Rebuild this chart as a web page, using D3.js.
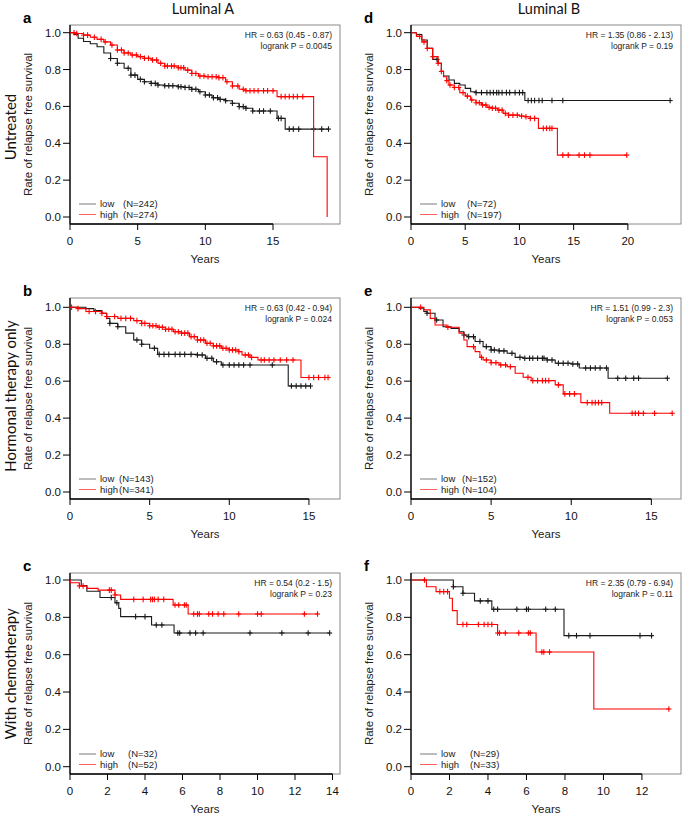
<!DOCTYPE html>
<html><head><meta charset="utf-8">
<script src="https://cdn.jsdelivr.net/npm/d3@7"></script>
<style>body{margin:0;background:#fff}svg{display:block}</style>
</head><body>
<svg id="chart" width="684" height="816"></svg>
<script>
// ---------- DATA ----------
const columnTitles = ["Luminal A", "Luminal B"];
const rowTitles = ["Untreated", "Hormonal therapy only", "With chemotherapy"];
const yTicks = [0, 0.2, 0.4, 0.6, 0.8, 1.0];

// panel a : Luminal A, untreated
const aTicks = [0, 5, 10, 15];
const aLow = [[0,1],[0.3,0.99],[0.6,0.97],[1.0,0.952],[1.5,0.94],[2.0,0.924],[2.5,0.89],[3.0,0.86],[3.5,0.834],[4.0,0.807],[4.5,0.77],[5.0,0.747],[5.5,0.734],[6.0,0.725],[6.5,0.716],[7.0,0.712],[8.0,0.707],[8.5,0.703],[9.0,0.693],[9.5,0.68],[10.0,0.662],[10.5,0.647],[11.0,0.638],[11.5,0.631],[12.0,0.617],[12.5,0.599],[13.0,0.59],[13.5,0.575],[15.3,0.535],[15.9,0.477],[19.1,0.477]];
const aHigh = [[0,1],[0.5,0.996],[1.0,0.987],[1.5,0.975],[2.0,0.964],[2.5,0.95],[3.0,0.933],[3.5,0.906],[4.0,0.89],[4.5,0.879],[5.0,0.87],[5.5,0.861],[6.0,0.852],[6.5,0.834],[7.0,0.819],[8.0,0.81],[8.5,0.797],[9.0,0.779],[9.5,0.765],[10.0,0.761],[11.0,0.756],[11.5,0.734],[12.0,0.711],[12.5,0.693],[13.0,0.685],[15.3,0.653],[18.0,0.327],[19.0,0]];
const aLowCens = [3.0,3.5,4.3,4.5,4.8,5.2,5.5,6.0,6.3,6.5,7.0,7.3,7.6,8.0,8.2,8.5,8.8,9.0,9.3,9.6,10.0,10.3,10.6,10.9,11.1,11.5,12.0,12.5,12.8,13.0,13.5,14.0,14.3,14.8,15.4,15.6,16.2,16.5,16.9,18.0,18.6,19.1];
const aHighCens = [0.3,0.5,1.0,1.3,1.8,2.3,2.6,3.1,3.5,3.8,4.0,4.3,4.6,4.9,5.2,5.5,5.8,6.1,6.4,6.7,7.0,7.2,7.5,7.7,8.0,8.2,8.4,8.7,9.0,9.3,9.6,9.9,10.2,10.5,10.8,11.0,11.3,11.6,12.0,12.4,12.8,13.0,13.3,13.6,13.9,14.3,14.6,15.0,15.6,15.9,16.2,16.5,16.8,17.2];
const aStats = ["HR = 0.63 (0.45 - 0.87)", "logrank P = 0.0045"];
const aN = ["(N=242)", "(N=274)"];

// panel d : Luminal B, untreated
const dTicks = [0, 5, 10, 15, 20];
const dLow = [[0,1],[0.5,0.99],[1.0,0.96],[1.5,0.915],[2.0,0.855],[2.5,0.834],[2.8,0.79],[3.0,0.765],[3.5,0.743],[4.0,0.725],[4.5,0.716],[5.0,0.698],[5.5,0.68],[6.0,0.675],[10.5,0.632],[23.9,0.632]];
const dHigh = [[0,1],[0.5,0.98],[1.0,0.95],[1.5,0.915],[2.0,0.87],[2.5,0.834],[2.8,0.79],[3.0,0.761],[3.3,0.74],[3.5,0.716],[4.0,0.703],[4.5,0.675],[5.0,0.656],[5.5,0.635],[6.0,0.62],[6.5,0.608],[7.0,0.595],[7.5,0.59],[8.0,0.58],[8.5,0.562],[9.0,0.553],[10.0,0.548],[10.5,0.544],[11.0,0.535],[11.75,0.481],[13.5,0.336],[19.9,0.336]];
const dLowCens = [2.4,6.0,6.5,7.0,7.3,7.6,7.9,8.1,8.4,8.8,9.1,9.6,10.0,10.3,10.8,11.1,11.4,11.8,12.1,13.0,14.0,23.9];
const dHighCens = [0.8,1.2,1.5,2.0,2.5,2.8,3.3,3.6,4.0,4.4,4.8,5.2,5.6,6.0,6.3,6.6,6.9,7.2,7.5,7.8,8.1,8.4,8.7,9.0,9.4,9.8,10.2,10.6,11.0,11.4,12.2,12.5,12.8,13.0,14.0,14.5,15.5,16.0,16.5,19.9];
const dStats = ["HR = 1.35 (0.86 - 2.13)", "logrank P = 0.19"];
const dN = ["(N=72)", "(N=197)"];

// panel b : Luminal A, hormonal therapy only
const bTicks = [0, 5, 10, 15];
const bLow = [[0,1],[1.0,0.993],[1.5,0.982],[2.0,0.968],[2.3,0.94],[2.5,0.913],[3.0,0.895],[3.5,0.86],[4.0,0.823],[4.5,0.8],[5.0,0.778],[5.5,0.745],[8.0,0.742],[8.5,0.724],[9.0,0.705],[9.5,0.688],[13.7,0.574],[15.1,0.574]];
const bHigh = [[0,1],[0.5,0.993],[1.0,0.977],[2.0,0.968],[2.3,0.95],[3.0,0.94],[4.0,0.928],[4.5,0.913],[5.0,0.9],[5.5,0.892],[6.0,0.881],[6.5,0.868],[7.0,0.86],[7.5,0.841],[8.0,0.823],[8.5,0.805],[9.0,0.791],[9.5,0.778],[10.0,0.769],[10.6,0.76],[10.8,0.742],[11.3,0.729],[11.8,0.715],[14.5,0.62],[16.2,0.62]];
const bLowCens = [2.5,3.0,4.2,4.5,5.3,5.6,5.9,6.2,6.6,6.9,7.2,7.6,8.0,8.3,8.6,8.9,9.2,9.6,10.0,10.3,10.6,10.9,11.3,12.7,13.9,14.2,14.5,14.8,15.1];
const bHighCens = [0.1,0.5,1.2,1.6,2.0,2.3,2.8,3.2,3.5,3.8,4.2,4.5,4.7,5.0,5.2,5.4,5.6,5.8,6.0,6.2,6.4,6.6,6.8,7.0,7.2,7.4,7.6,7.8,8.0,8.2,8.4,8.6,8.8,9.0,9.2,9.4,9.6,9.8,10.0,10.2,10.4,10.6,11.0,11.2,11.4,12.0,12.2,12.5,12.8,13.2,13.6,14.0,15.0,15.3,15.6,16.0,16.2];
const bStats = ["HR = 0.63 (0.42 - 0.94)", "logrank P = 0.024"];
const bN = ["(N=143)", "(N=341)"];

// panel e : Luminal B, hormonal therapy only
const eTicks = [0, 5, 10, 15];
const eLow = [[0,1],[0.5,0.995],[0.8,0.977],[1.0,0.968],[1.5,0.931],[2.0,0.895],[2.5,0.886],[3.0,0.868],[3.3,0.85],[3.5,0.841],[4.0,0.815],[4.5,0.787],[5.0,0.769],[5.5,0.764],[6.0,0.751],[6.5,0.729],[7.0,0.724],[8.5,0.715],[9.0,0.697],[10.0,0.693],[10.5,0.671],[12.3,0.616],[16.0,0.616]];
const eHigh = [[0,1],[0.8,0.986],[1.2,0.94],[1.5,0.904],[2.2,0.892],[3.0,0.86],[3.3,0.823],[3.5,0.787],[4.0,0.76],[4.3,0.729],[4.5,0.715],[5.0,0.7],[5.5,0.688],[6.0,0.679],[6.5,0.643],[7.0,0.621],[7.5,0.603],[9.0,0.58],[9.5,0.531],[10.6,0.484],[12.4,0.426],[16.3,0.426]];
const eLowCens = [1.0,1.6,3.3,3.6,3.9,4.3,4.7,5.0,5.2,5.5,5.8,6.3,6.8,7.1,7.4,7.6,7.9,8.2,8.3,8.5,8.8,9.2,9.5,9.8,10.1,10.4,10.9,11.2,11.5,11.8,12.2,12.9,13.4,13.9,14.2,16.0];
const eHighCens = [0.6,2.3,3.9,4.4,4.7,5.0,5.3,5.6,5.9,6.2,7.3,7.6,7.9,8.2,8.4,8.6,9.2,9.6,9.9,10.2,11.0,11.3,11.5,11.7,11.9,13.8,14.0,14.2,14.5,15.2,16.3];
const eStats = ["HR = 1.51 (0.99 - 2.3)", "logrank P = 0.053"];
const eN = ["(N=152)", "(N=104)"];

// panel c : Luminal A, with chemotherapy
const cTicks = [0, 2, 4, 6, 8, 10, 12, 14];
const cLow = [[0,1],[0.6,0.97],[0.9,0.94],[1.6,0.906],[2.4,0.878],[2.6,0.848],[2.7,0.804],[4.35,0.759],[5.55,0.716],[13.85,0.716]];
const cHigh = [[0,1],[0.02,0.985],[0.5,0.968],[0.9,0.955],[1.5,0.946],[2.4,0.92],[2.7,0.896],[5.5,0.866],[6.3,0.818],[13.2,0.818]];
const cLowCens = [2.2,2.5,3.5,4.0,4.6,4.9,5.75,5.85,6.4,6.7,7.1,9.6,11.3,12.7,13.85];
const cHighCens = [0.5,0.7,2.1,2.2,2.4,3.4,3.9,4.3,4.4,4.5,4.7,5.0,5.6,5.8,6.1,6.2,6.6,6.8,6.9,7.4,7.6,7.9,8.2,9.0,10.0,10.2,12.5,13.2];
const cStats = ["HR = 0.54 (0.2 - 1.5)", "logrank P = 0.23"];
const cN = ["(N=32)", "(N=52)"];

// panel f : Luminal B, with chemotherapy
const fTicks = [0, 2, 4, 6, 8, 10, 12];
const fLow = [[0,1],[2.2,0.964],[2.7,0.929],[3.3,0.888],[4.2,0.843],[7.95,0.702],[12.55,0.702]];
const fHigh = [[0,1],[0.8,0.964],[1.3,0.938],[2.0,0.902],[2.15,0.836],[2.4,0.762],[4.5,0.716],[6.5,0.614],[9.5,0.309],[13.4,0.309]];
const fLowCens = [2.2,2.7,3.6,4.0,4.3,4.5,5.5,6.0,6.1,7.0,7.5,8.2,8.6,9.3,11.9,12.5];
const fHighCens = [0.7,1.5,1.7,1.9,2.7,2.9,3.5,3.8,4.0,4.2,4.5,4.6,4.9,5.6,6.1,6.2,6.8,6.9,7.2,13.4];
const fStats = ["HR = 2.35 (0.79 - 6.94)", "logrank P = 0.11"];
const fN = ["(N=29)", "(N=33)"];

// ---------- LAYOUT ----------
const svg = d3.select("#chart");
const AX = "'Liberation Sans', Arial, Helvetica, sans-serif";
const LB = "Lato, 'Open Sans', sans-serif";
const LOWC = "#1a1a1a", HIGHC = "#ff0000";

const panels = [
  {key:"a", x0:70,  x1:340, top:25,  bottom:224, yOne:32.7,  yZero:217,   xmax:19.95, ticks:aTicks, low:aLow, high:aHigh, lowC:aLowCens, highC:aHighCens, stats:aStats, n:aN, nx:123},
  {key:"d", x0:411, x1:681, top:25,  bottom:224, yOne:32.7,  yZero:217,   xmax:24.9,  ticks:dTicks, low:dLow, high:dHigh, lowC:dLowCens, highC:dHighCens, stats:dStats, n:dN, nx:467},
  {key:"b", x0:70,  x1:340, top:298, bottom:499, yOne:307.3, yZero:492,   xmax:16.95, ticks:bTicks, low:bLow, high:bHigh, lowC:bLowCens, highC:bHighCens, stats:bStats, n:bN, nx:119},
  {key:"e", x0:411, x1:681, top:298, bottom:499, yOne:307.3, yZero:492,   xmax:16.85, ticks:eTicks, low:eLow, high:eHigh, lowC:eLowCens, highC:eHighCens, stats:eStats, n:eN, nx:462},
  {key:"c", x0:70,  x1:340, top:573, bottom:774, yOne:580,   yZero:766.7, xmax:14.4,  ticks:cTicks, low:cLow, high:cHigh, lowC:cLowCens, highC:cHighCens, stats:cStats, n:cN, nx:128},
  {key:"f", x0:411, x1:681, top:573, bottom:774, yOne:580,   yZero:766.7, xmax:14.03, ticks:fTicks, low:fLow, high:fHigh, lowC:fLowCens, highC:fHighCens, stats:fStats, n:fN, nx:470}
];

// column titles
[203, 549].forEach((cx, i) => {
  svg.append("text").attr("x", cx).attr("y", 14).attr("text-anchor", "middle")
    .attr("font-family", LB).attr("font-size", 14.5).attr("fill", "#111").text(columnTitles[i]);
});
// row titles
[127, 396, 674].forEach((cy, i) => {
  svg.append("text").attr("transform", `translate(10,${cy}) rotate(-90)`)
    .attr("text-anchor", "middle").attr("dominant-baseline", "central")
    .attr("font-family", LB).attr("font-size", 15).attr("fill", "#111").text(rowTitles[i]);
});

const bis = d3.bisector(d => d[0]).right;
function valueAt(steps, t) {
  const i = bis(steps, t) - 1;
  return steps[Math.max(0, i)][1];
}

panels.forEach(p => {
  const g = svg.append("g");
  const x = d3.scaleLinear().domain([0, p.xmax]).range([p.x0, p.x1]);
  const y = d3.scaleLinear().domain([0, 1]).range([p.yZero, p.yOne]);

  // box
  g.append("rect").attr("x", p.x0).attr("y", p.top).attr("width", p.x1 - p.x0).attr("height", p.bottom - p.top)
    .attr("fill", "none").attr("stroke", "#8a8a8a").attr("stroke-width", 1);
  g.append("line").attr("x1", p.x0).attr("x2", p.x0).attr("y1", p.top).attr("y2", p.bottom)
    .attr("stroke", "#000").attr("stroke-width", 1.3);
  g.append("line").attr("x1", p.x0).attr("x2", x(p.ticks[p.ticks.length - 1])).attr("y1", p.bottom).attr("y2", p.bottom)
    .attr("stroke", "#000").attr("stroke-width", 1.3);

  // y axis
  yTicks.forEach(v => {
    g.append("line").attr("x1", p.x0 - 7).attr("x2", p.x0).attr("y1", y(v)).attr("y2", y(v)).attr("stroke", "#000");
    g.append("text").attr("x", p.x0 - 9).attr("y", y(v)).attr("text-anchor", "end").attr("dominant-baseline", "central")
      .attr("font-family", AX).attr("font-size", 11.5).attr("fill", "#111").text(d3.format(".1f")(v));
  });
  // x axis
  p.ticks.forEach(v => {
    g.append("line").attr("x1", x(v)).attr("x2", x(v)).attr("y1", p.bottom).attr("y2", p.bottom + 6).attr("stroke", "#000");
    g.append("text").attr("x", x(v)).attr("y", p.bottom + 16.5).attr("text-anchor", "middle").attr("dominant-baseline", "central")
      .attr("font-family", AX).attr("font-size", 11.5).attr("fill", "#111").text(v);
  });
  g.append("text").attr("x", (p.x0 + p.x1) / 2).attr("y", p.bottom + 35).attr("text-anchor", "middle").attr("dominant-baseline", "central")
    .attr("font-family", AX).attr("font-size", 11.5).attr("fill", "#222").text("Years");
  g.append("text").attr("transform", `translate(${p.x0 - 42},${(p.top + p.bottom) / 2}) rotate(-90)`)
    .attr("text-anchor", "middle").attr("dominant-baseline", "central")
    .attr("font-family", AX).attr("font-size", 11.5).attr("fill", "#222").text("Rate of relapse free survival");

  // panel letter
  g.append("text").attr("x", p.x0 - 47).attr("y", p.top - 2).attr("font-family", AX).attr("font-weight", "bold")
    .attr("font-size", 15).attr("fill", "#000").text(p.key);

  // curves
  const line = d3.line().x(d => x(d[0])).y(d => y(d[1])).curve(d3.curveStepAfter);
  [[p.low, p.lowC, LOWC], [p.high, p.highC, HIGHC]].forEach(([steps, cens, col]) => {
    g.append("path").attr("d", line(steps)).attr("fill", "none").attr("stroke", col).attr("stroke-width", 1.1);
    const cg = g.append("g").attr("stroke", col).attr("stroke-width", 1.1);
    cens.forEach(t => {
      const cx = x(t), cy = y(valueAt(steps, t));
      cg.append("line").attr("x1", cx).attr("x2", cx).attr("y1", cy - 2.8).attr("y2", cy + 2.8);
      cg.append("line").attr("x1", cx - 2.5).attr("x2", cx + 2.5).attr("y1", cy).attr("y2", cy);
    });
  });

  // stats text
  p.stats.forEach((s, i) => {
    g.append("text").attr("x", p.x1 - 8).attr("y", p.top + 13 + i * 11).attr("text-anchor", "end")
      .attr("font-family", AX).attr("font-size", 8.5).attr("fill", "#222").text(s);
  });

  // legend
  [["low", LOWC, "#7a7a7a"], ["high", HIGHC, "#ff6060"]].forEach(([lab, col, lcol], i) => {
    const ly = p.bottom - 20 + i * 10.5;
    g.append("line").attr("x1", p.x0 + 9).attr("x2", p.x0 + 26).attr("y1", ly).attr("y2", ly).attr("stroke", lcol).attr("stroke-width", 1);
    g.append("text").attr("x", p.x0 + 30).attr("y", ly + 3).attr("font-family", AX).attr("font-size", 9.5).attr("fill", "#222").text(lab);
    g.append("text").attr("x", p.nx).attr("y", ly + 3).attr("font-family", AX).attr("font-size", 9.5).attr("fill", "#222").text(p.n[i]);
  });
});
</script>
</body></html>
